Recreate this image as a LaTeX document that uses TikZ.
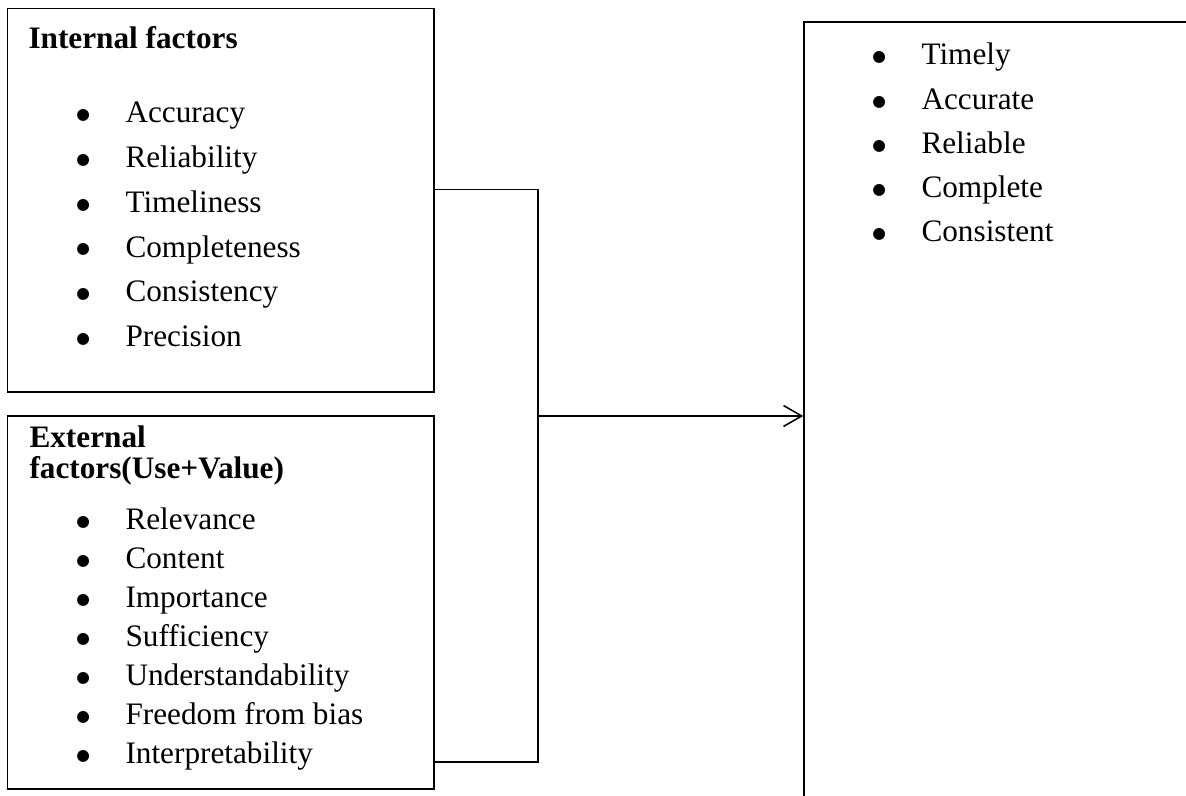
\documentclass[tikz,border=0pt,12pt]{standalone}
\usepackage{fontspec}
\setmainfont{Liberation Serif}
\newfontfamily\symfont{DejaVu Sans}
\usetikzlibrary{arrows.meta, fit}

\newcommand{\blt}{\llap{\makebox[0pt]{\raisebox{1.2pt}{\symfont\fontsize{6}{6}\selectfont ●}}\hspace{16.3pt}}}

\begin{document}
\begin{tikzpicture}[x=0.384pt, y=-0.384pt,
  box/.style={draw, line width=0.5pt, inner sep=0pt},
  head/.style={anchor=base west, inner sep=0pt, font=\bfseries},
  itm/.style={anchor=base west, inner sep=0pt},
  conn/.style={line width=0.6pt}]
  \useasboundingbox (0,0) rectangle (1186,796);
  \clip (0,0) rectangle (1186,796);

  % boxes
  \node[box, fit={(7.5,8.5) (434,392)}] (int) {};
  \node[box, fit={(7.5,416) (434,789)}] (ext) {};
  \node[box, fit={(804,22) (1220,830)}] (res) {};

  % internal factors
  \node[head] (int-h) at (28,49) {Internal factors};
  \foreach \t [count=\i from 0] in {Accuracy, Reliability, Timeliness, Completeness, Consistency, Precision}
    \node[itm] (int-\i) at (125,123+44.7*\i) {\blt\t};

  % external factors
  \node[head] (ext-h1) at (29,448) {External};
  \node[head] (ext-h2) at (29,479) {factors(Use+Value)};
  \foreach \t [count=\i from 0] in {Relevance, Content, Importance, Sufficiency, Understandability, Freedom from bias, Interpretability}
    \node[itm] (ext-\i) at (125,530+39*\i) {\blt\t};

  % result
  \foreach \t [count=\i from 0] in {Timely, Accurate, Reliable, Complete, Consistent}
    \node[itm] (res-\i) at (921,65+44.2*\i) {\blt\t};

  % connectors
  \coordinate (jn) at (538,416);
  \draw[conn] ([yshift=4.2pt]int.east) -| (jn) |- ([yshift=-61.2pt]ext.east);
  \draw[conn, -{Straight Barb[length=7pt, width=8pt]}] (jn) -- (res.west |- jn);
\end{tikzpicture}
\end{document}
